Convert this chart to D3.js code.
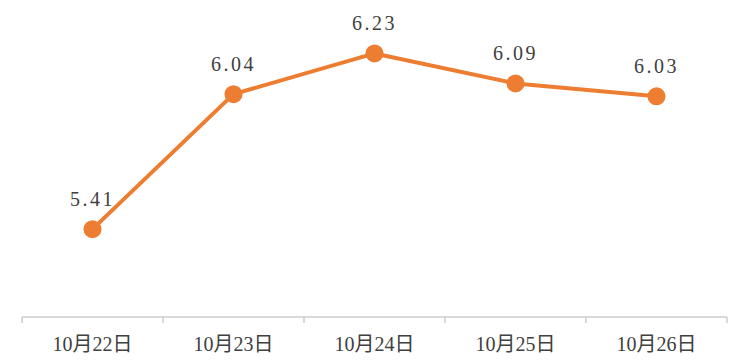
<!DOCTYPE html>
<html>
<head>
<meta charset="utf-8">
<script src="https://cdn.jsdelivr.net/npm/d3@7"></script>
<style>
  html, body { margin: 0; padding: 0; background: #fff; }
  svg { display: block; }
</style>
</head>
<body>
<svg id="chart" width="752" height="361"></svg>
<script>
const categories = ["10月22日", "10月23日", "10月24日", "10月25日", "10月26日"];
const values = [5.41, 6.04, 6.23, 6.09, 6.03];
const valueLabels = ["5.41", "6.04", "6.23", "6.09", "6.03"];
const yDomain = [5.0, 6.4];

(function () {
const svg = d3.select("#chart");
const mLeft = 22, mRight = 727, mBottom = 317, mTop = 17;

const x = d3.scaleBand().domain(categories).range([mLeft, mRight]).paddingInner(0).paddingOuter(0);
const y = d3.scaleLinear().domain(yDomain).range([mBottom, mTop]);

const serif = "'Liberation Serif', 'DejaVu Serif', 'Noto Sans CJK SC', serif";

// x axis
const axisG = svg.append("g").attr("transform", `translate(0,${mBottom})`);
axisG.append("line")
  .attr("x1", mLeft).attr("x2", mRight).attr("y1", 0).attr("y2", 0)
  .attr("stroke", "#cccccc").attr("stroke-width", 1.5);
const boundaries = categories.map(c => x(c)).concat([x(categories[categories.length - 1]) + x.bandwidth()]);
axisG.selectAll("line.tick").data(boundaries).enter().append("line")
  .attr("class", "tick")
  .attr("x1", d => d).attr("x2", d => d).attr("y1", 0).attr("y2", 6)
  .attr("stroke", "#cccccc").attr("stroke-width", 1.5);
axisG.selectAll("text.cat").data(categories).enter().append("text")
  .attr("class", "cat")
  .attr("x", d => x(d) + x.bandwidth() / 2)
  .attr("y", 34)
  .attr("text-anchor", "middle")
  .attr("font-family", serif)
  .attr("font-size", 20)
  .attr("fill", "#404040")
  .text(d => d);

// line
const line = d3.line()
  .x((d, i) => x(categories[i]) + x.bandwidth() / 2)
  .y(d => y(d));
svg.append("path")
  .datum(values)
  .attr("d", line)
  .attr("fill", "none")
  .attr("stroke", "#ED7D31")
  .attr("stroke-width", 4)
  .attr("stroke-linejoin", "round");

svg.selectAll("circle.pt").data(values).enter().append("circle")
  .attr("class", "pt")
  .attr("cx", (d, i) => x(categories[i]) + x.bandwidth() / 2)
  .attr("cy", d => y(d))
  .attr("r", 9)
  .attr("fill", "#ED7D31");

svg.selectAll("text.val").data(values).enter().append("text")
  .attr("class", "val")
  .attr("x", (d, i) => x(categories[i]) + x.bandwidth() / 2)
  .attr("y", d => y(d) - 23)
  .attr("text-anchor", "middle")
  .attr("font-family", serif)
  .attr("font-size", 20)
  .attr("letter-spacing", 2.5)
  .attr("fill", "#404040")
  .text((d, i) => valueLabels[i]);
})();
</script>
</body>
</html>
